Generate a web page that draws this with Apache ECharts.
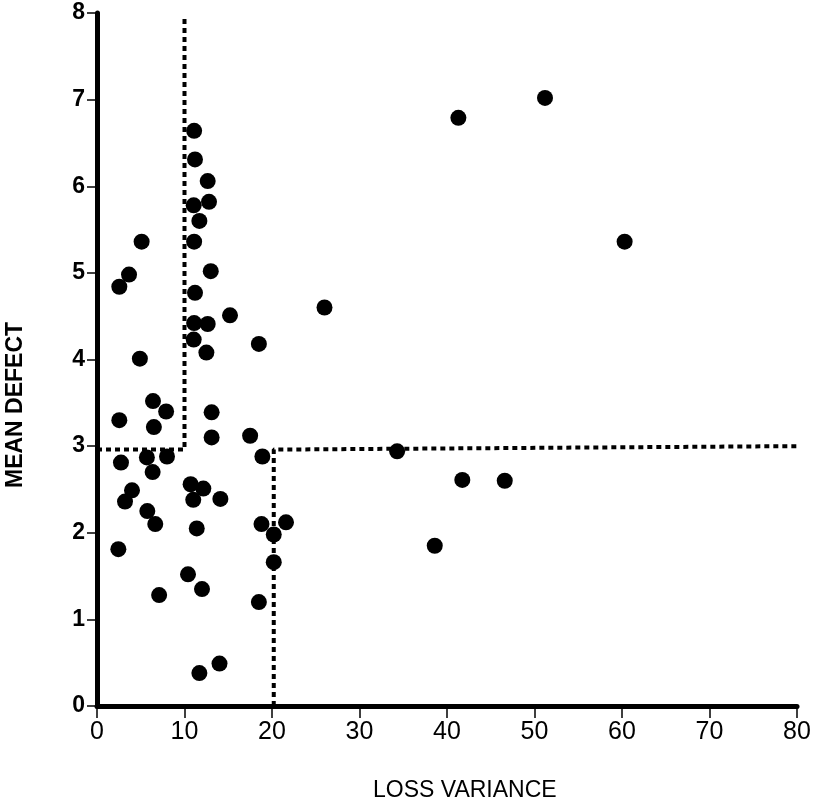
<!DOCTYPE html>
<html>
<head>
    <meta charset="utf-8">
    <title>Mean defect vs loss variance</title>
    <script src="https://cdn.jsdelivr.net/npm/echarts@6/dist/echarts.min.js"></script>
    <style>
        html, body { margin: 0; padding: 0; background: #fff; }
        #container { width: 822px; height: 804px; }
    </style>
</head>
<body>
<div id="container"></div>
<script>
    // loss variance (x) and mean defect (y) for each plotted point
    var lossVariance = [
        11.1, 11.2, 12.65, 12.8, 11.05, 11.7, 11.1, 5.1, 3.66, 2.55,
        13.0, 11.2, 15.2, 26.0, 11.1, 12.65, 11.05, 18.5, 12.5, 4.9,
        6.4, 7.9, 2.55, 6.5, 13.1, 13.1, 17.5, 18.9, 2.74, 5.7,
        8.0, 6.36, 4.0, 3.2, 10.7, 12.15, 11.0, 14.1, 5.75, 6.66,
        11.4, 18.8, 21.6, 20.2, 2.44, 20.2, 10.4, 12.0, 7.1, 18.5,
        14.0, 11.7, 51.2, 41.3, 60.3, 34.3, 41.75, 46.6, 38.6
    ];
    var meanDefect = [
        6.64, 6.31, 6.06, 5.82, 5.78, 5.60, 5.36, 5.36, 4.98, 4.84,
        5.02, 4.77, 4.51, 4.60, 4.42, 4.41, 4.23, 4.18, 4.08, 4.01,
        3.52, 3.40, 3.30, 3.22, 3.39, 3.10, 3.12, 2.88, 2.81, 2.87,
        2.88, 2.70, 2.49, 2.36, 2.56, 2.51, 2.38, 2.39, 2.25, 2.10,
        2.05, 2.10, 2.12, 1.98, 1.81, 1.66, 1.52, 1.35, 1.28, 1.20,
        0.49, 0.38, 7.02, 6.79, 5.36, 2.94, 2.61, 2.60, 1.85
    ];
    // dotted partition lines
    var leftCutX = [0, 10, 10];
    var leftCutY = [2.96, 2.96, 7.95];
    var rightCutX = [20.2, 20.2, 80];
    var rightCutY = [0, 2.96, 3.0];

    var xTicks = [0, 10, 20, 30, 40, 50, 60, 70, 80];
    var yTicks = [0, 1, 2, 3, 4, 5, 6, 7, 8];

    function pairs(xs, ys) {
        var out = [];
        for (var i = 0; i < xs.length; i++) out.push([xs[i], ys[i]]);
        return out;
    }

    var chart = echarts.init(document.getElementById('container'));
    var font = 'Liberation Sans';
    var dotted = {color: '#000', width: 4, type: [5, 4]};

    var option = {
        animation: false,
        backgroundColor: '#fff',
        grid: {left: 97, right: 25, top: 13, bottom: 98, containLabel: false},
        xAxis: {
            type: 'value',
            min: xTicks[0],
            max: xTicks[xTicks.length - 1],
            interval: 10,
            splitLine: {show: false},
            axisLine: {show: true, onZero: false, lineStyle: {color: '#000', width: 5}},
            axisTick: {show: true, inside: false, length: 12, lineStyle: {color: '#000', width: 1.5}},
            axisLabel: {color: '#000', fontFamily: font, fontSize: 25, margin: 14}
        },
        yAxis: {
            type: 'value',
            min: yTicks[0],
            max: yTicks[yTicks.length - 1],
            interval: 1,
            splitLine: {show: false},
            axisLine: {show: true, onZero: false, lineStyle: {color: '#000', width: 5}},
            axisTick: {show: true, inside: false, length: 10, lineStyle: {color: '#000', width: 1.5}},
            axisLabel: {color: '#000', fontFamily: font, fontSize: 23, fontWeight: 'bold', margin: 12}
        },
        graphic: [
            {
                type: 'text',
                left: 373, top: 779,
                style: {text: 'LOSS VARIANCE', fill: '#000', font: '23px "Liberation Sans"'}
            },
            {
                type: 'text',
                x: 4, y: 488,
                rotation: Math.PI / 2,
                style: {text: 'MEAN DEFECT', fill: '#000', font: 'bold 23px "Liberation Sans"', align: 'left', verticalAlign: 'top'}
            }
        ],
        series: [
            {
                type: 'line',
                data: pairs(leftCutX, leftCutY),
                symbol: 'none',
                lineStyle: dotted,
                z: 1
            },
            {
                type: 'line',
                data: pairs(rightCutX, rightCutY),
                symbol: 'none',
                lineStyle: dotted,
                z: 1
            },
            {
                type: 'scatter',
                data: pairs(lossVariance, meanDefect),
                symbol: 'circle',
                symbolSize: 16,
                itemStyle: {color: '#000', opacity: 1},
                z: 3
            }
        ]
    };
    chart.setOption(option);
</script>
</body>
</html>
